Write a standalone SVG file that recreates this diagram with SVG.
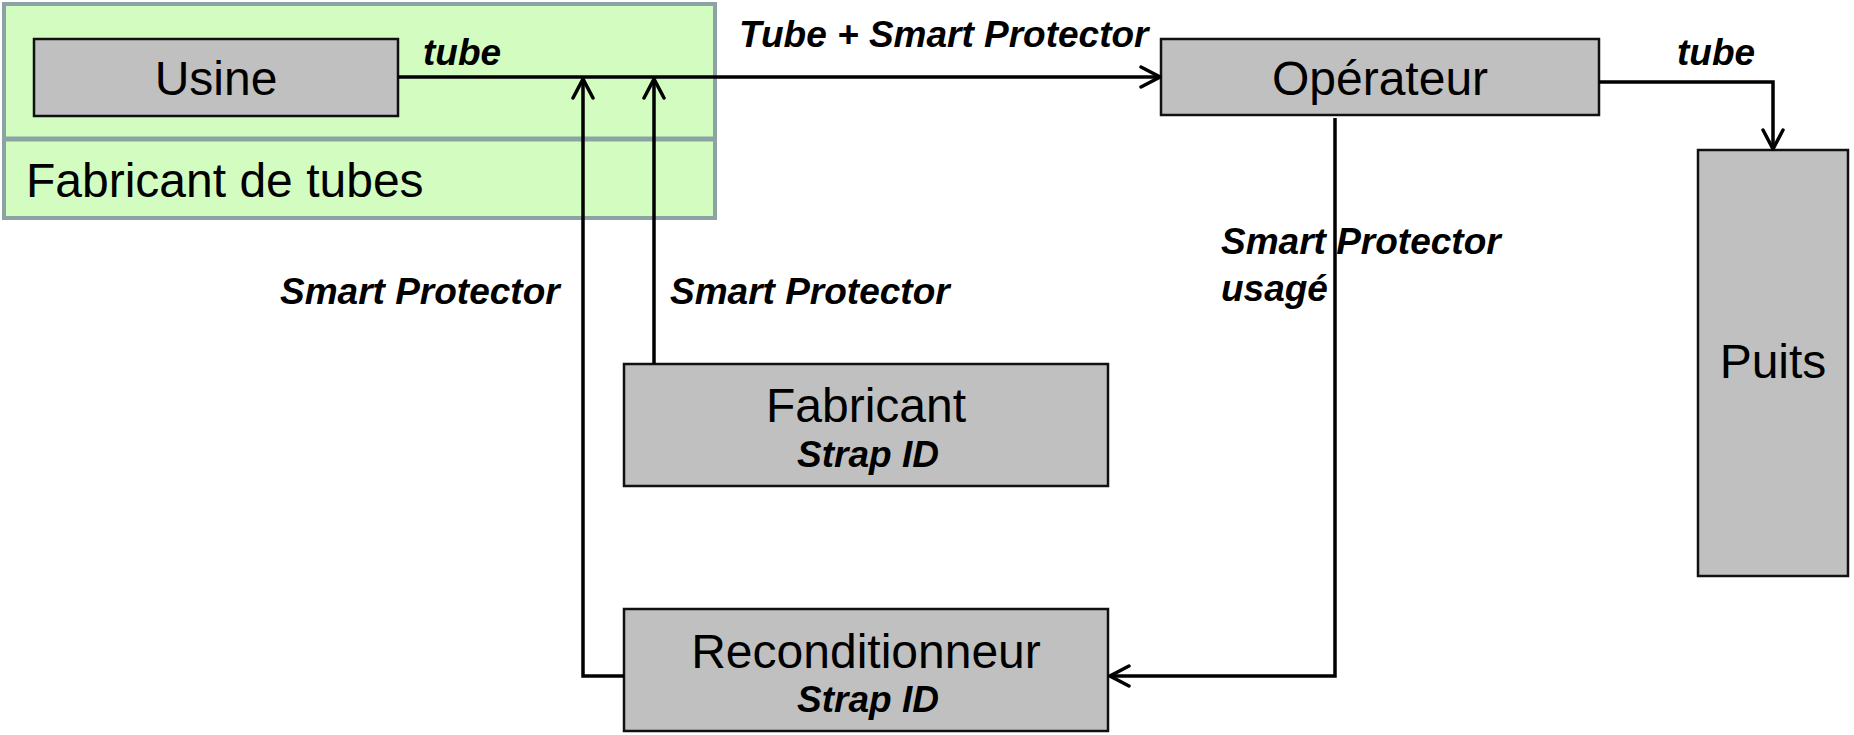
<svg xmlns="http://www.w3.org/2000/svg" width="1854" height="735" viewBox="0 0 1854 735">
<defs>
<style>
.box{fill:#c0c0c0;stroke:#111;stroke-width:2.5}
.grp{fill:#d3fcc0;stroke:#8ca3a3;stroke-width:4}
.t{font-family:"Liberation Sans",Arial,sans-serif;font-size:48px;fill:#000}
.l{font-family:"Liberation Sans",Arial,sans-serif;font-size:37px;font-weight:bold;font-style:italic;fill:#000}
.c{fill:none;stroke:#000;stroke-width:3.5}
</style>
<marker id="ar" viewBox="0 0 24 24" refX="22" refY="12" markerWidth="24" markerHeight="24" markerUnits="userSpaceOnUse" orient="auto">
<path d="M3,2 L22,12 L3,22" fill="none" stroke="#000" stroke-width="3.5" stroke-linecap="round" stroke-linejoin="miter"/>
</marker>
</defs>
<rect width="1854" height="735" fill="#fff"/>
<g id="fabricant-de-tubes">
<rect class="grp" x="4" y="4" width="711" height="214"/>
<line x1="4" y1="139" x2="715" y2="139" stroke="#8ca3a3" stroke-width="5"/>
<text class="t" x="26" y="197">Fabricant de tubes</text>
</g>
<g id="usine">
<rect class="box" x="34" y="39" width="364" height="77"/>
<text class="t" x="216" y="95" text-anchor="middle">Usine</text>
</g>
<g id="operateur">
<rect class="box" x="1161" y="39" width="438" height="76"/>
<text class="t" x="1380" y="95" text-anchor="middle">Opérateur</text>
</g>
<g id="puits">
<rect class="box" x="1698" y="150" width="150" height="426"/>
<text class="t" x="1773" y="378" text-anchor="middle">Puits</text>
</g>
<g id="fabricant">
<rect class="box" x="624" y="364" width="484" height="122"/>
<text class="t" x="866" y="422" text-anchor="middle">Fabricant</text>
<text class="l" x="868" y="467" text-anchor="middle">Strap ID</text>
</g>
<g id="reconditionneur">
<rect class="box" x="624" y="609" width="484" height="122"/>
<text class="t" x="866" y="668" text-anchor="middle">Reconditionneur</text>
<text class="l" x="868" y="712" text-anchor="middle">Strap ID</text>
</g>
<g id="connectors">
<path class="c" d="M398,77 H1160" stroke-width="4.5" marker-end="url(#ar)"/>
<path class="c" d="M624,676 H583 V79" marker-end="url(#ar)"/>
<path class="c" d="M654,364 V79" marker-end="url(#ar)"/>
<path class="c" d="M1335,118 V676 H1110" marker-end="url(#ar)"/>
<path class="c" d="M1599,82 H1773 V149" marker-end="url(#ar)"/>
</g>
<g id="labels">
<text class="l" x="423" y="65">tube</text>
<text class="l" x="739" y="47">Tube + Smart Protector</text>
<text class="l" x="1677" y="65">tube</text>
<text class="l" x="280" y="304">Smart Protector</text>
<text class="l" x="670" y="304">Smart Protector</text>
<text class="l" x="1221" y="254">Smart Protector</text>
<text class="l" x="1221" y="301">usagé</text>
</g>
</svg>
